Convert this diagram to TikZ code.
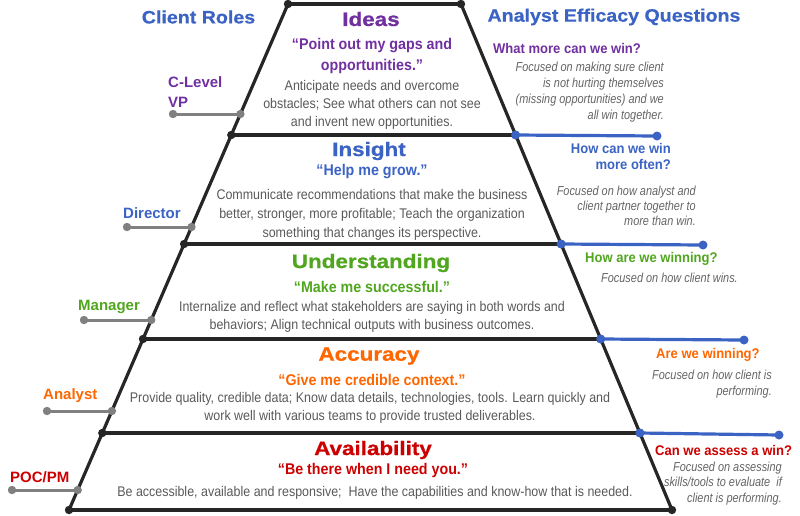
\documentclass[tikz,border=0pt]{standalone}
\usepackage{fontspec}
\setmainfont{Liberation Sans}
\newfontfamily\hdrfont{Liberation Sans}[FakeStretch=1.09,FakeBold=0.6]
\newfontfamily\ttlfont{Liberation Sans}[FakeStretch=1.15,FakeBold=0.8]
\newfontfamily\qtfont{Liberation Sans}[FakeStretch=0.92]
\newfontfamily\dscfont{Liberation Sans}[FakeStretch=0.89]
\newfontfamily\itfont{Liberation Sans}[FakeStretch=0.84]
\newfontfamily\qfont{Liberation Sans}[FakeStretch=0.93]
\definecolor{cpurple}{RGB}{112,48,160}
\definecolor{cblue}{RGB}{59,99,196}
\definecolor{cgreen}{RGB}{80,166,30}
\definecolor{corange}{RGB}{255,102,0}
\definecolor{cred}{RGB}{204,0,0}
\definecolor{descgray}{RGB}{89,89,89}
\definecolor{itgray}{RGB}{100,100,100}
\definecolor{lineblk}{RGB}{38,38,38}
\definecolor{rolegray}{RGB}{128,128,128}
\begin{document}
\begin{tikzpicture}[x=1pt,y=-1pt,
  frameline/.style={line width=3.2pt, draw=lineblk, line cap=round},
  blueline/.style={line width=3.2pt, draw=cblue},
  grayline/.style={line width=3pt, draw=rolegray},
  ttl/.style={inner sep=0pt, font=\ttlfont\bfseries\fontsize{19.5}{22}\selectfont},
  qt/.style={inner sep=0pt, align=center, font=\qtfont\bfseries\fontsize{15.5}{21}\selectfont},
  dsc/.style={inner sep=0pt, align=center, text=descgray, font=\dscfont\fontsize{14}{18}\selectfont},
  itx/.style={inner sep=0pt, align=right, anchor=east, text=itgray, font=\itfont\itshape\fontsize{13}{16}\selectfont},
  qst/.style={inner sep=0pt, font=\qfont\bfseries\fontsize{14}{15.5}\selectfont},
  role/.style={inner sep=0pt, anchor=west, align=left, font=\bfseries\fontsize{15}{20}\selectfont},
  hdr/.style={inner sep=0pt, text=cblue, font=\hdrfont\bfseries\fontsize{18}{20}\selectfont}]
\useasboundingbox (0,0) rectangle (800,515);
% frame coordinates
\coordinate (L0) at (288,4);     \coordinate (R0) at (461,4);
\coordinate (L1) at (231.3,135); \coordinate (R1) at (515.6,135);
\coordinate (L2) at (184.1,244); \coordinate (R2) at (561.1,244);
\coordinate (L3) at (143.0,339); \coordinate (R3) at (600.7,339);
\coordinate (L4) at (102.3,433); \coordinate (R4) at (639.9,433);
\coordinate (L5) at (69,510);    \coordinate (R5) at (672,510);
\coordinate (B1) at (657,136);
\coordinate (B2) at (703,245);
\coordinate (B3) at (744,340);
\coordinate (B4) at (779,435);
\coordinate (G1a) at (173,114); \coordinate (G1b) at (240.4,114);
\coordinate (G2a) at (127,227); \coordinate (G2b) at (191.5,227);
\coordinate (G3a) at (84,320);  \coordinate (G3b) at (151.2,320);
\coordinate (G4a) at (47,411);  \coordinate (G4b) at (111.9,411);
\coordinate (G5a) at (12,490);  \coordinate (G5b) at (77.7,490);
% frame
\draw[frameline] (L0) -- (L5);
\draw[frameline] (R0) -- (R5);
\foreach \i in {0,...,5} {\draw[frameline] (L\i) -- (R\i);}
% blue connectors
\foreach \i in {1,...,4} {\draw[blueline] (R\i) -- (B\i);}
% gray role connectors
\foreach \i in {1,...,5} {\draw[grayline] (G\i a) -- (G\i b);}
% dots
\foreach \i in {0,...,5} {\fill[lineblk] (L\i) circle (4.2pt); \fill[lineblk] (R\i) circle (4.2pt);}
\foreach \i in {1,...,4} {\fill[cblue] (R\i) circle (4.5pt); \fill[cblue] (B\i) circle (4.5pt);}
\foreach \i in {1,...,5} {\fill[rolegray] (G\i a) circle (4.2pt); \fill[rolegray] (G\i b) circle (4.2pt);}
% headers
\node[hdr] (hroles) at (198.5,17) {Client Roles};
\node[hdr] (hquest) at (614,17) {Analyst Efficacy Questions};
% level 1 Ideas
\node[ttl, text=cpurple] (t1) at (371,19) {Ideas};
\node[qt, text=cpurple] (q1) at (372,55.5) {“Point out my gaps and\\opportunities.”};
\node[dsc] (d1) at (372,105) {Anticipate needs and overcome\\obstacles; See what others can not see\\and invent new opportunities.};
% level 2 Insight
\node[ttl, text=cblue] (t2) at (369,151) {Insight};
\node[qt, text=cblue] (q2) at (372,172) {“Help me grow.”};
\node[dsc, font=\dscfont\fontsize{14}{19}\selectfont] (d2) at (372,215) {Communicate recommendations that make the business\\better, stronger, more profitable; Teach the organization\\something that changes its perspective.};
% level 3 Understanding
\node[ttl, text=cgreen] (t3) at (371,263) {Understanding};
\node[qt, text=cgreen] (q3) at (372,287) {“Make me successful.”};
\node[dsc] (d3) at (372,317) {Internalize and reflect what stakeholders are saying in both words and\\behaviors; Align technical outputs with business outcomes.};
% level 4 Accuracy
\node[ttl, text=corange] (t4) at (369,356) {Accuracy};
\node[qt, text=corange] (q4) at (372,380) {“Give me credible context.”};
\node[dsc] (d4) at (370,408) {Provide quality, credible data; Know data details, technologies, tools. Learn quickly and\\work well with various teams to provide trusted deliverables.};
% level 5 Availability
\node[ttl, text=cred] (t5) at (373,450) {Availability};
\node[qt, text=cred] (q5) at (373,470) {“Be there when I need you.”};
\node[dsc] (d5) at (375,493) {Be accessible, available and responsive;\ \ Have the capabilities and know-how that is needed.};
% roles
\node[role, text=cpurple] (r1) at (168,92) {C-Level\\VP};
\node[role, text=cblue] (r2) at (123,213) {Director};
\node[role, text=cgreen] (r3) at (78,307) {Manager};
\node[role, text=corange] (r4) at (43,396) {Analyst};
\node[role, text=cred] (r5) at (10,477) {POC/PM};
% questions
\node[qst, text=cpurple, anchor=west] (a1) at (493,48) {What more can we win?};
\node[itx] (e1) at (664,92) {Focused on making sure client\\is not hurting themselves\\(missing opportunities) and we\\all win together.};
\node[qst, text=cblue, anchor=east, align=right] (a2) at (671,156.5) {How can we win\\more often?};
\node[itx, font=\itfont\itshape\fontsize{13}{15}\selectfont] (e2) at (696,206) {Focused on how analyst and\\client partner together to\\more than win.};
\node[qst, text=cgreen, anchor=west] (a3) at (585,259) {How are we winning?};
\node[itx, anchor=west] (e3) at (601,278) {Focused on how client wins.};
\node[qst, text=corange, anchor=west] (a4) at (656,355) {Are we winning?};
\node[itx] (e4) at (772,384) {Focused on how client is\\performing.};
\node[qst, text=cred, anchor=west] (a5) at (655,450) {Can we assess a win?};
\node[itx, font=\itfont\itshape\fontsize{13}{15.5}\selectfont] (e5) at (782,483.5) {Focused on assessing\\skills/tools to evaluate\ \ if\\client is performing.};
\end{tikzpicture}
\end{document}
